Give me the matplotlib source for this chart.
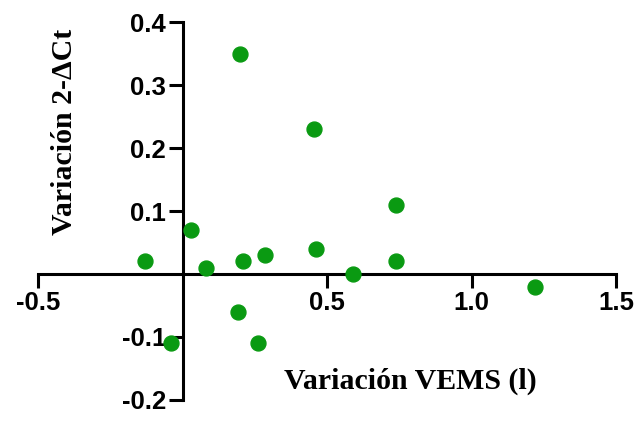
import numpy as np
import matplotlib.pyplot as plt

# variation values
vems = [0.20, 0.455, 0.74, 0.03, -0.13, 0.08, 0.21, 0.285, 0.46, 0.59, 0.74, 1.22, 0.19, -0.04, 0.26]
dct = [0.35, 0.23, 0.11, 0.07, 0.02, 0.01, 0.02, 0.03, 0.04, 0.00, 0.02, -0.02, -0.06, -0.11, -0.11]

xticks = [-0.5, 0.5, 1.0, 1.5]
yticks = [-0.2, -0.1, 0.1, 0.2, 0.3, 0.4]

fig = plt.figure(figsize=(6.37, 4.25), dpi=100)
ax = fig.add_axes([0.06, 0.059, 0.907, 0.889])

ax.scatter(vems, dct, s=115, color='#0a9a12', zorder=3, clip_on=False)

ax.set_xlim(-0.5, 1.5)
ax.set_ylim(-0.2, 0.4)

ax.spines['left'].set_position(('data', 0))
ax.spines['bottom'].set_position(('data', 0))
ax.spines['right'].set_visible(False)
ax.spines['top'].set_visible(False)
for sp in ['left', 'bottom']:
    ax.spines[sp].set_linewidth(2.2)

ax.set_xticks(xticks)
ax.set_xticklabels(['-0.5', '0.5', '1.0', '1.5'])
ax.set_yticks(yticks)
ax.set_yticklabels(['-0.2', '-0.1', '0.1', '0.2', '0.3', '0.4'])
ax.tick_params(width=2.2, length=10, pad=2)
for lab in ax.get_xticklabels() + ax.get_yticklabels():
    lab.set_fontfamily('Liberation Sans')
    lab.set_fontweight('bold')
    lab.set_fontsize(18.5)

fig.text(0.645, 0.103, 'Variación VEMS (l)', fontfamily='Liberation Serif',
         fontweight='bold', fontsize=21.5, ha='center', va='center')
fig.text(0.102, 0.69, 'Variación 2-ΔCt', fontfamily='Liberation Serif',
         fontweight='bold', fontsize=21.5, ha='center', va='center', rotation=90)

fig.savefig('out.png', dpi=100)
